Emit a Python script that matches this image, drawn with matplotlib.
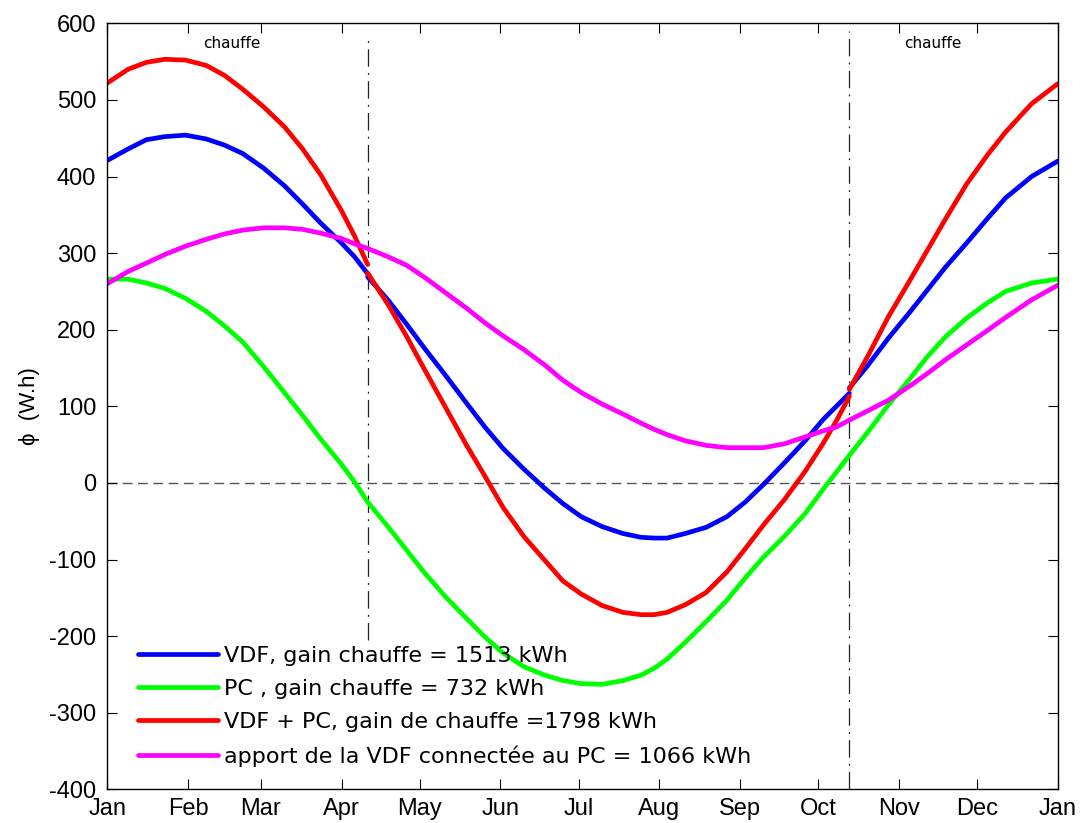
import numpy as np
import matplotlib
matplotlib.use('Agg')
import matplotlib.pyplot as plt

# ---- data ----
# the day value is repeated where the curves jump (start / end of the heating season)
days = [0, 8, 15, 22, 30, 38, 45, 52, 60, 68, 75, 82, 90, 95, 100,
        100, 108, 115, 122, 130, 138, 145, 152, 160, 168, 175, 182, 190, 198, 205, 210,
        215, 222, 230, 238, 245, 252, 260, 268, 275, 280, 285,
        285, 292, 300, 308, 315, 322, 330, 338, 345, 355, 365]
vdf = [421, 436, 448, 452, 454, 449, 441, 430, 411, 388, 364, 339, 313, 295, 273,
       269, 238, 207, 175, 140, 104, 73, 45, 18, -7, -27, -44, -57, -66, -71, -72,
       -72, -66, -58, -44, -25, -2, 26, 55, 83, 100, 117,
       124, 153, 189, 222, 252, 282, 313, 345, 372, 400, 420]
pc = [266, 266, 261, 254, 241, 224, 205, 184, 152, 118, 88, 57, 24, 1, -25,
      -25, -58, -88, -118, -149, -177, -201, -222, -240, -251, -258, -262, -263, -258, -251, -242,
      -230, -208, -181, -153, -124, -97, -70, -40, -8, 14, 36,
      36, 66, 102, 135, 165, 191, 215, 235, 250, 261, 266]
vdf_pc = [522, 540, 549, 553, 552, 545, 532, 514, 491, 465, 436, 402, 355, 322, 285,
          274, 232, 191, 147, 98, 49, 9, -32, -70, -101, -128, -145, -160, -169, -172, -172,
          -169, -159, -143, -116, -86, -55, -22, 15, 52, 81, 113,
          122, 165, 217, 263, 304, 345, 390, 428, 458, 495, 521]
apport = [260, 276, 287, 298, 309, 318, 325, 330, 333, 333, 331, 326, 319, 312, 306,
          306, 295, 284, 268, 248, 228, 209, 192, 174, 154, 134, 118, 103, 90, 78, 70,
          63, 55, 49, 46, 46, 46, 51, 60, 68, 73, 82,
          82, 94, 108, 126, 143, 161, 180, 199, 216, 239, 258]

month_ticks = [0, 31, 59, 90, 120, 151, 181, 212, 243, 273, 304, 334, 365]
month_labels = ['Jan', 'Feb', 'Mar', 'Apr', 'May', 'Jun', 'Jul', 'Aug', 'Sep', 'Oct',
                'Nov', 'Dec', 'Jan']
y_ticks = [-400, -300, -200, -100, 0, 100, 200, 300, 400, 500, 600]
season_limits = [100, 285]
legend_labels = ['VDF, gain chauffe = 1513 kWh',
                 'PC , gain chauffe = 732 kWh',
                 'VDF + PC, gain de chauffe =1798 kWh',
                 'apport de la VDF connectée au PC = 1066 kWh']

plt.rcParams['font.family'] = ['Liberation Sans', 'DejaVu Sans']
plt.rcParams['axes.unicode_minus'] = False

fig = plt.figure(figsize=(10.85, 8.23), dpi=100)
ax = fig.add_axes([0.0989, 0.0409, 0.8759, 0.9308])

d = np.array(days, float)
breaks = np.where(np.diff(d) == 0)[0] + 1
LW = 3.4


def plot_segments(vals, color, label):
    v = np.array(vals, float)
    first = None
    for ds, vs in zip(np.split(d, breaks), np.split(v, breaks)):
        ln, = ax.plot(ds, vs, color=color, lw=LW, solid_capstyle='round',
                      solid_joinstyle='round')
        if first is None:
            first = ln
    first.set_label(label)
    return first


h1 = plot_segments(vdf, (0, 0, 1), legend_labels[0])
h2, = ax.plot(d, np.array(pc, float), color=(0, 1, 0), lw=LW, solid_capstyle='round',
              solid_joinstyle='round', label=legend_labels[1])
h3 = plot_segments(vdf_pc, (1, 0, 0), legend_labels[2])
h4, = ax.plot(d, np.array(apport, float), color=(1, 0, 1), lw=LW, solid_capstyle='round',
              solid_joinstyle='round', label=legend_labels[3])

# reference lines
ax.axhline(0, color='#555555', lw=1.0, ls=(0, (7, 4)), zorder=1)
ax.plot([season_limits[0]] * 2, [-205, 585], color='#222222', lw=0.9,
        ls=(0, (14, 5, 1.5, 5)), zorder=1)
ax.plot([season_limits[1]] * 2, [-400, 590], color='#222222', lw=0.9,
        ls=(0, (14, 5, 1.5, 5)), zorder=1)

ax.text(48, 574, 'chauffe', fontsize=11, ha='center', va='center',
        family=['DejaVu Sans'])
ax.text(317, 574, 'chauffe', fontsize=11, ha='center', va='center',
        family=['DejaVu Sans'])

ax.set_xlim(0, 365)
ax.set_ylim(-400, 600)
ax.set_xticks(month_ticks)
ax.set_xticklabels(month_labels)
ax.set_yticks(y_ticks)
ax.tick_params(direction='in', length=7, width=0.8, top=True, right=True,
               labelsize=17)
ax.tick_params(axis='x', pad=6)
ax.tick_params(axis='y', pad=8)
for s in ax.spines.values():
    s.set_linewidth(1.0)

fig.text(0.0276, 0.5067, '\u03d5  (W.h)', rotation=90, ha='center', va='center',
         fontsize=16)

leg = ax.legend(handles=[h1, h2, h3, h4], loc='upper left',
                bbox_to_anchor=(0.032, 0.1874), frameon=False,
                prop={'family': 'DejaVu Sans', 'size': 16},
                handlelength=3.6, handletextpad=0.3, borderpad=0, borderaxespad=0,
                labelspacing=0.59)

fig.savefig('out.png', dpi=100)
